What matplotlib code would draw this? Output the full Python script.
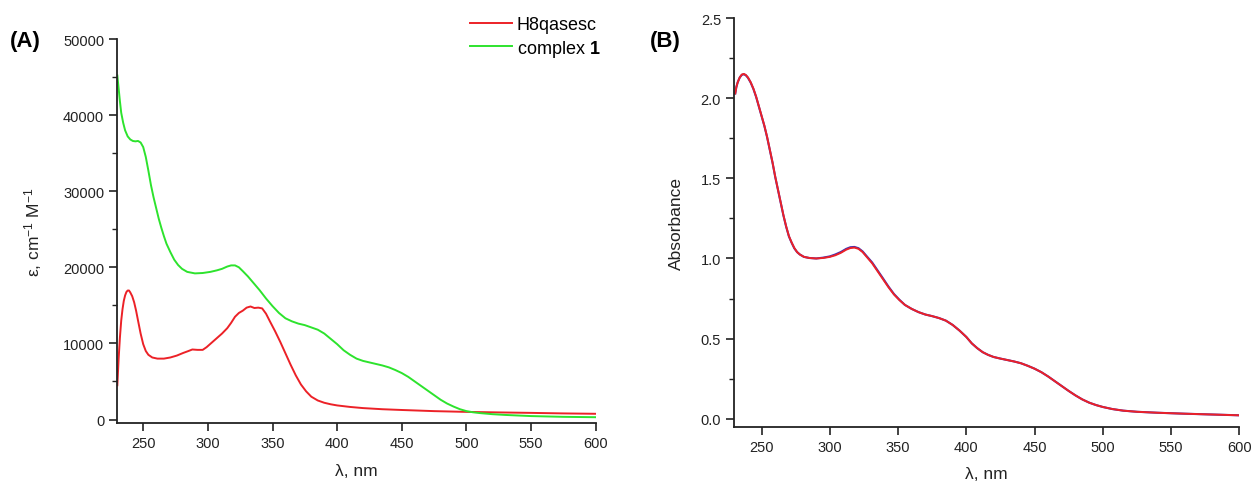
import matplotlib
matplotlib.use("Agg")
import matplotlib.pyplot as plt
from matplotlib.ticker import MultipleLocator

plt.rcParams['font.family'] = ['Liberation Sans', 'DejaVu Sans']
plt.rcParams['mathtext.fontset'] = 'custom'
plt.rcParams['mathtext.rm'] = 'Liberation Sans'
plt.rcParams['mathtext.bf'] = 'Liberation Sans:bold'
plt.rcParams['mathtext.it'] = 'Liberation Sans:italic'

# ---------------- Panel A data ----------------
wl_ligand = [230, 231, 232, 233, 234, 235, 236, 237, 238, 239, 240, 241.5, 243, 244.5, 246, 248, 250,
             252, 254, 257, 261, 266, 271, 276, 281, 285, 288, 292, 296, 299, 303, 307, 311, 315,
             318, 321, 324, 327, 330, 333, 336, 339, 342, 345, 348, 352, 356, 360, 364, 368, 372,
             376, 380, 385, 390, 395, 400, 410, 420, 435, 450, 475, 500, 525, 550, 575, 600]
eps_ligand = [4500, 8000, 10800, 13000, 14500, 15600, 16300, 16750, 16950, 16950, 16700, 16200, 15400,
              14300, 13000, 11300, 9900, 9000, 8500, 8150, 8000, 8000, 8150, 8400, 8750, 9000, 9200,
              9150, 9150, 9500, 10100, 10700, 11300, 12000, 12700, 13500, 14000, 14300, 14700, 14850,
              14650, 14700, 14600, 13900, 12900, 11600, 10200, 8700, 7200, 5800, 4600, 3700, 3000,
              2500, 2200, 2000, 1850, 1650, 1500, 1350, 1250, 1100, 1000, 930, 870, 800, 750]

wl_complex = [230, 231, 232, 233, 234.5, 236, 238, 240, 242, 244, 246, 248, 250, 252, 254, 256, 258,
              260, 262, 264, 266, 268, 271, 274, 277, 280, 284, 290, 296, 302, 307, 311, 315, 318,
              321, 324, 327, 331, 335, 340, 345, 350, 355, 360, 365, 370, 375, 380, 385, 390, 395,
              400, 405, 410, 415, 420, 425, 430, 435, 440, 445, 450, 455, 460, 465, 470, 475, 480,
              485, 490, 495, 500, 505, 510, 520, 530, 550, 575, 600]
eps_complex = [45200, 43500, 41800, 40300, 39000, 38000, 37200, 36800, 36600, 36550, 36600, 36400,
               35800, 34500, 32700, 30800, 29200, 27800, 26400, 25200, 24100, 23100, 22000, 21000,
               20300, 19800, 19400, 19200, 19250, 19400, 19600, 19800, 20100, 20250, 20250, 20000,
               19500, 18800, 18000, 17000, 15900, 14900, 14000, 13300, 12900, 12600, 12400, 12100,
               11800, 11300, 10600, 9900, 9100, 8500, 8000, 7700, 7500, 7300, 7100, 6850, 6500, 6100,
               5600, 5000, 4400, 3800, 3200, 2600, 2100, 1700, 1350, 1100, 950, 850, 700, 600, 450,
               350, 300]

# ---------------- Panel B data ----------------
wl_abs = [230.7, 231.5, 232.5, 234, 235.5, 237, 238.5, 240, 242, 244, 246, 248, 250, 252, 254, 256,
          258, 260, 262, 264, 266, 268, 270, 272, 274, 276, 278, 281, 285, 290, 295, 300, 304, 308,
          312, 315, 318, 321, 324, 327, 331, 335, 339, 343, 347, 351, 355, 360, 365, 370, 375, 380,
          385, 390, 395, 400, 404, 408, 412, 416, 420, 425, 430, 435, 440, 445, 450, 455, 460, 465,
          470, 475, 480, 485, 490, 495, 500, 507, 515, 525, 540, 560, 580, 600]
abs_red = [2.03, 2.07, 2.10, 2.13, 2.148, 2.152, 2.145, 2.13, 2.10, 2.06, 2.01, 1.95, 1.89, 1.83,
           1.76, 1.68, 1.60, 1.51, 1.43, 1.35, 1.27, 1.20, 1.14, 1.10, 1.065, 1.04, 1.025, 1.01, 1.003,
           1.00, 1.003, 1.01, 1.02, 1.035, 1.055, 1.065, 1.068, 1.06, 1.04, 1.01, 0.97, 0.92, 0.87,
           0.82, 0.775, 0.74, 0.71, 0.685, 0.665, 0.65, 0.64, 0.628, 0.612, 0.585, 0.55, 0.51, 0.47,
           0.44, 0.415, 0.398, 0.385, 0.375, 0.366, 0.357, 0.346, 0.33, 0.312, 0.29, 0.263, 0.233,
           0.203, 0.173, 0.145, 0.12, 0.10, 0.085, 0.073, 0.06, 0.05, 0.043, 0.037, 0.031, 0.026, 0.021]
abs_blue = [2.03, 2.07, 2.10, 2.13, 2.146, 2.150, 2.143, 2.128, 2.098, 2.058, 2.008, 1.948, 1.888,
            1.828, 1.758, 1.678, 1.598, 1.508, 1.428, 1.348, 1.268, 1.198, 1.138, 1.098, 1.063, 1.04,
            1.025, 1.01, 1.003, 1.00, 1.005, 1.013, 1.025, 1.04, 1.06, 1.07, 1.072, 1.064, 1.044,
            1.014, 0.975, 0.925, 0.875, 0.824, 0.778, 0.742, 0.71, 0.685, 0.665, 0.65, 0.64, 0.628,
            0.612, 0.585, 0.55, 0.51, 0.47, 0.44, 0.415, 0.398, 0.385, 0.375, 0.366, 0.357, 0.346,
            0.33, 0.312, 0.29, 0.263, 0.233, 0.203, 0.173, 0.145, 0.12, 0.10, 0.085, 0.073, 0.06,
            0.05, 0.043, 0.037, 0.031, 0.026, 0.021]

xticks = [250, 300, 350, 400, 450, 500, 550, 600]

RED = '#ec2127'
GREEN = '#2de32d'
BLUE = '#3a2fb8'
SPINE = '#222222'

fig = plt.figure(figsize=(12.55, 4.89), dpi=100)
axA = fig.add_axes([0.0935, 0.1323, 0.3812, 0.7859])
axB = fig.add_axes([0.5851, 0.1254, 0.4024, 0.8354])

for ax in (axA, axB):
    ax.spines['top'].set_visible(False)
    ax.spines['right'].set_visible(False)
    for s in ('left', 'bottom'):
        ax.spines[s].set_linewidth(1.3)
        ax.spines[s].set_color(SPINE)
    ax.set_xlim(230, 600)
    ax.set_xticks(xticks)
    ax.tick_params(axis='both', which='major', direction='out', length=5.5, width=1.2,
                   colors=SPINE, labelsize=10.5, labelcolor='#222222', pad=4)
    ax.tick_params(axis='y', which='minor', direction='out', length=3.5, width=1.0, colors=SPINE)
    ax.set_xlabel('λ, nm', fontsize=12.5, labelpad=9, color='#222222')

# Panel A
lA1, = axA.plot(wl_ligand, eps_ligand, color=RED, lw=1.4, label='H8qasesc')
lA2, = axA.plot(wl_complex, eps_complex, color=GREEN, lw=1.4, label=r'complex $\mathbf{1}$')
axA.set_ylim(-500, 50000)
axA.set_yticks([0, 10000, 20000, 30000, 40000, 50000])
axA.yaxis.set_minor_locator(MultipleLocator(5000))
axA.set_ylabel(r'ε, cm$^{-1}$ M$^{-1}$', fontsize=12.5, labelpad=14, color='#222222')
axA.legend(handles=[lA1, lA2], loc='upper left', bbox_to_anchor=(470 / 1255, 1 - 17 / 489),
           bbox_transform=fig.transFigure, frameon=False, fontsize=13, handlelength=2.3,
           handletextpad=0.3, labelspacing=0.25, borderaxespad=0, borderpad=0)

# Panel B
axB.plot(wl_abs, abs_blue, color=BLUE, lw=1.5)
axB.plot(wl_abs, abs_red, color=RED, lw=1.4)
axB.set_ylim(-0.05, 2.5)
axB.set_yticks([0.0, 0.5, 1.0, 1.5, 2.0, 2.5])
axB.set_yticklabels(['0.0', '0.5', '1.0', '1.5', '2.0', '2.5'])
axB.yaxis.set_minor_locator(MultipleLocator(0.25))
axB.set_ylabel('Absorbance', fontsize=12.5, labelpad=12, color='#222222')

fig.text(10 / 1255, 1 - 42 / 489, '(A)', fontsize=16, fontweight='bold', va='center', ha='left')
fig.text(650 / 1255, 1 - 42 / 489, '(B)', fontsize=16, fontweight='bold', va='center', ha='left')

fig.savefig('out.png', dpi=100)
